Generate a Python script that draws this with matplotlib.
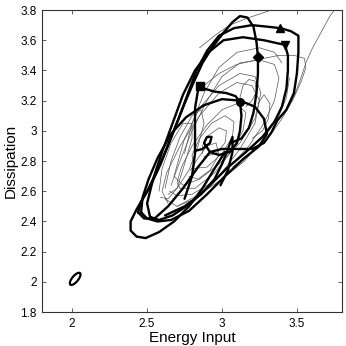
import matplotlib
matplotlib.use("Agg")
import matplotlib.pyplot as plt
from matplotlib.patches import Ellipse

plt.rcParams["font.family"] = ["Liberation Sans", "DejaVu Sans"]

# axis setup
x_ticks = [2.0, 2.5, 3.0, 3.5]
x_tick_labels = ["2", "2.5", "3", "3.5"]
y_ticks = [1.8, 2.0, 2.2, 2.4, 2.6, 2.8, 3.0, 3.2, 3.4, 3.6, 3.8]
y_tick_labels = ["1.8", "2", "2.2", "2.4", "2.6", "2.8", "3", "3.2", "3.4", "3.6", "3.8"]

# thick trajectories (traced by eye)
thick_1 = [(3.02, 2.86), (2.95, 2.75), (2.87, 2.62), (2.78, 2.50), (2.68, 2.40),
           (2.58, 2.33), (2.49, 2.29), (2.43, 2.30), (2.39, 2.34), (2.39, 2.40),
           (2.43, 2.48), (2.50, 2.60), (2.57, 2.74), (2.63, 2.88), (2.69, 3.03),
           (2.75, 3.18), (2.81, 3.32), (2.87, 3.45), (2.94, 3.56), (3.01, 3.65),
           (3.07, 3.72), (3.12, 3.76), (3.17, 3.75), (3.21, 3.69), (3.23, 3.59),
           (3.24, 3.49), (3.24, 3.38), (3.23, 3.25), (3.21, 3.12), (3.18, 3.02),
           (3.13, 2.95), (3.06, 2.92)]
thick_2 = [(2.44, 2.46), (2.48, 2.42), (2.55, 2.42), (2.64, 2.50), (2.74, 2.62),
           (2.84, 2.76), (2.92, 2.86), (3.00, 2.88), (3.10, 2.88), (3.20, 2.88),
           (3.28, 2.92), (3.33, 2.99), (3.37, 3.07), (3.43, 3.14), (3.48, 3.25),
           (3.50, 3.38), (3.51, 3.52), (3.51, 3.63), (3.46, 3.66), (3.39, 3.68),
           (3.30, 3.69), (3.20, 3.70), (3.08, 3.68), (2.98, 3.63), (2.90, 3.53),
           (2.83, 3.40), (2.77, 3.24), (2.71, 3.08), (2.65, 2.93), (2.59, 2.78),
           (2.52, 2.63), (2.46, 2.53), (2.44, 2.46)]
thick_3 = [(2.52, 2.43), (2.50, 2.52), (2.54, 2.68), (2.60, 2.86), (2.67, 3.05),
           (2.74, 3.24), (2.82, 3.40), (2.91, 3.52), (3.01, 3.60), (3.14, 3.62),
           (3.28, 3.60), (3.37, 3.58), (3.42, 3.57), (3.44, 3.50), (3.44, 3.40),
           (3.43, 3.28), (3.40, 3.16), (3.35, 3.06), (3.27, 2.96), (3.16, 2.86),
           (3.03, 2.75), (2.91, 2.63), (2.79, 2.52), (2.67, 2.44), (2.58, 2.41),
           (2.52, 2.43)]
thick_4 = [(2.46, 2.46), (2.47, 2.56), (2.51, 2.68), (2.57, 2.82), (2.66, 2.98),
           (2.76, 3.09), (2.88, 3.17), (3.00, 3.21), (3.12, 3.20), (3.22, 3.16),
           (3.28, 3.08), (3.30, 2.98), (3.25, 2.90), (3.15, 2.82), (3.02, 2.70),
           (2.90, 2.58), (2.78, 2.47), (2.66, 2.41), (2.57, 2.40), (2.50, 2.42),
           (2.46, 2.46)]
thick_5 = [(2.75, 2.55), (2.80, 2.70), (2.82, 2.85), (2.82, 3.00), (2.82, 3.15),
           (2.84, 3.27), (2.85, 3.30), (2.88, 3.28), (2.95, 3.26), (3.03, 3.25),
           (3.09, 3.23), (3.12, 3.19), (3.13, 3.10), (3.12, 3.00), (3.10, 2.92),
           (3.05, 2.86), (2.98, 2.84), (2.92, 2.86), (2.88, 2.92), (2.90, 2.96),
           (2.93, 2.96), (2.92, 2.92), (2.87, 2.88), (2.83, 2.87)]
thick_6 = [(2.62, 2.44), (2.75, 2.50), (2.86, 2.58), (2.95, 2.68), (3.00, 2.78),
           (3.04, 2.88), (3.07, 2.96), (3.07, 2.86), (3.04, 2.74), (2.99, 2.64)]

# thin trajectories (traced by eye)
thin_1 = [(3.07, 2.76), (3.18, 2.85), (3.30, 2.94), (3.40, 3.08), (3.47, 3.20),
          (3.52, 3.33), (3.56, 3.45), (3.60, 3.54), (3.66, 3.65), (3.72, 3.76),
          (3.75, 3.80)]
thin_2 = [(2.85, 3.55), (2.95, 3.63), (3.05, 3.70), (3.18, 3.75), (3.33, 3.80)]
thin_3 = [(2.88, 3.30), (2.98, 3.38), (3.10, 3.44), (3.23, 3.47), (3.38, 3.50),
          (3.48, 3.50), (3.55, 3.48), (3.56, 3.42), (3.53, 3.33), (3.48, 3.22),
          (3.42, 3.12)]
thin_4 = [(2.62, 2.55), (2.70, 2.50), (2.82, 2.55), (2.98, 2.70), (3.12, 2.88),
          (3.22, 3.05), (3.25, 3.20), (3.20, 3.30), (3.10, 3.32), (2.98, 3.25),
          (2.85, 3.10), (2.72, 2.90), (2.63, 2.72), (2.60, 2.60), (2.64, 2.52)]
thin_5 = [(2.72, 2.62), (2.82, 2.62), (2.95, 2.72), (3.06, 2.86), (3.14, 3.00),
          (3.16, 3.12), (3.10, 3.18), (3.00, 3.14), (2.90, 3.04), (2.80, 2.90),
          (2.73, 2.76), (2.70, 2.66), (2.72, 2.62)]
thin_6 = [(2.80, 2.75), (2.90, 2.76), (3.00, 2.85), (3.07, 2.96), (3.08, 3.06),
          (3.02, 3.10), (2.93, 3.05), (2.85, 2.95), (2.80, 2.84), (2.81, 2.77)]
thin_7 = [(2.88, 2.83), (2.96, 2.85), (3.02, 2.92), (3.03, 3.00), (2.98, 3.02),
          (2.91, 2.97), (2.87, 2.90), (2.87, 2.85)]
thin_8 = [(2.66, 2.64), (2.72, 2.80), (2.80, 3.00), (2.90, 3.20), (3.00, 3.36),
          (3.12, 3.45), (3.25, 3.47), (3.35, 3.44), (3.38, 3.35), (3.35, 3.20),
          (3.28, 3.05), (3.18, 2.90), (3.05, 2.76), (2.92, 2.65), (2.80, 2.58),
          (2.70, 2.57), (2.65, 2.60)]
thin_9 = [(2.75, 2.85), (2.80, 3.05), (2.88, 3.25), (2.98, 3.42), (3.10, 3.52),
          (3.25, 3.55), (3.35, 3.52), (3.40, 3.45)]
thin_10 = [(2.58, 2.60), (2.60, 2.75), (2.66, 2.92), (2.74, 3.05), (2.80, 3.05),
           (2.80, 2.95), (2.75, 2.78), (2.70, 2.62), (2.64, 2.55), (2.59, 2.56)]
thin_11 = [(2.70, 2.50), (2.85, 2.58), (3.00, 2.68), (3.15, 2.80), (3.28, 2.95),
           (3.38, 3.10), (3.43, 3.22), (3.45, 3.35)]
thin_12 = [(3.12, 3.22), (3.14, 3.30), (3.18, 3.34), (3.22, 3.33), (3.23, 3.26),
           (3.20, 3.20), (3.16, 3.16)]
thin_13 = [(2.78, 2.70), (2.84, 2.68), (2.92, 2.74), (2.98, 2.84), (2.96, 2.92),
           (2.90, 2.90), (2.84, 2.82), (2.79, 2.74)]
thin_14 = [(2.68, 2.70), (2.75, 2.95), (2.85, 3.15), (2.98, 3.30), (3.12, 3.38),
           (3.22, 3.36), (3.26, 3.25), (3.22, 3.08), (3.12, 2.92), (2.98, 2.78),
           (2.85, 2.68), (2.74, 2.64), (2.68, 2.70)]
thin_15 = [(2.62, 2.62), (2.66, 2.80), (2.72, 2.96), (2.80, 3.10), (2.86, 3.14),
           (2.88, 3.05), (2.84, 2.90), (2.78, 2.74), (2.70, 2.62), (2.64, 2.58)]
thin_16 = [(3.20, 2.95), (3.27, 3.00), (3.31, 3.08), (3.32, 3.18), (3.28, 3.24),
           (3.24, 3.18)]

thick_curves = [thick_1, thick_2, thick_3, thick_4, thick_5, thick_6]
thin_curves = [thin_1, thin_2, thin_3, thin_4, thin_5, thin_6, thin_7, thin_8,
               thin_9, thin_10, thin_11, thin_12, thin_13, thin_14, thin_15,
               thin_16]

# marked points on the thick curves
markers = [("D", 3.24, 3.49), ("^", 3.39, 3.68), ("v", 3.42, 3.57),
           ("s", 2.85, 3.30), ("o", 3.12, 3.19)]

# small isolated orbit near (2, 2)
orbit_center = (2.02, 2.02)
orbit_width = 0.1
orbit_height = 0.04
orbit_angle = 50

fig = plt.figure(figsize=(3.46, 3.46), dpi=100)
ax = fig.add_axes([0.122, 0.098, 0.866, 0.873])

for curve in thin_curves:
    xs, ys = zip(*curve)
    ax.plot(xs, ys, color="#555555", lw=0.5, solid_joinstyle="round")
for curve in thick_curves:
    xs, ys = zip(*curve)
    ax.plot(xs, ys, color="black", lw=1.7, solid_joinstyle="round",
            solid_capstyle="round")
for marker, mx, my in markers:
    ax.plot(mx, my, marker=marker, color="black", ms=5.5)

ax.add_patch(Ellipse(orbit_center, orbit_width, orbit_height, angle=orbit_angle,
                     fill=False, color="black", lw=1.6))

ax.set_xlim(1.8, 3.8)
ax.set_ylim(1.8, 3.8)
ax.set_xticks(x_ticks)
ax.set_xticklabels(x_tick_labels)
ax.set_yticks(y_ticks)
ax.set_yticklabels(y_tick_labels)
ax.tick_params(direction="in", length=3, width=0.6, top=True, right=True,
               labelsize=8.5, pad=4, color="#444444")
for spine in ax.spines.values():
    spine.set_linewidth(0.8)
    spine.set_color("#333333")
ax.set_xlabel("Energy Input", fontsize=11, labelpad=1)
ax.set_ylabel("Dissipation", fontsize=11, labelpad=2)

fig.savefig("out.png", dpi=100)
